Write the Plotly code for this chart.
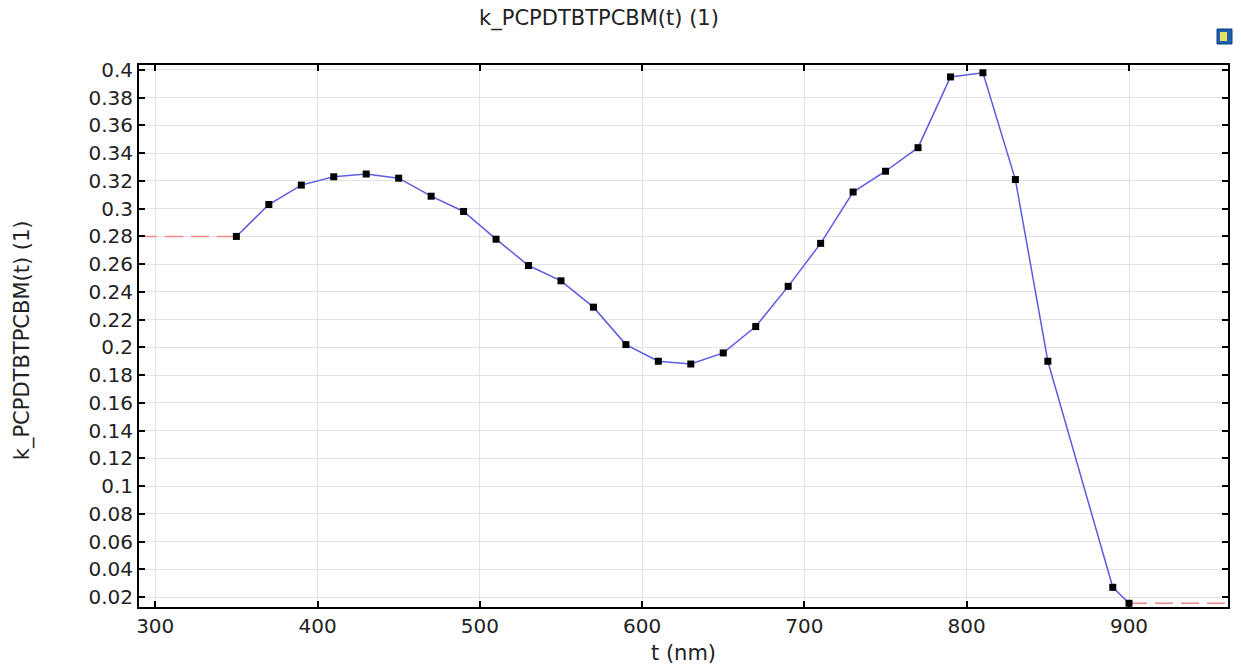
import plotly.graph_objects as go

t_nm = [350, 370, 390, 410, 430, 450, 470, 490, 510, 530, 550, 570, 590, 610, 630,
        650, 670, 690, 710, 730, 750, 770, 790, 810, 830, 850, 890, 900]
k_val = [0.280, 0.303, 0.317, 0.323, 0.325, 0.322, 0.309, 0.298, 0.278, 0.259, 0.248,
         0.229, 0.202, 0.190, 0.188, 0.196, 0.215, 0.244, 0.275, 0.312, 0.327, 0.344,
         0.395, 0.398, 0.321, 0.190, 0.027, 0.0155]

x_range = [290, 961]
y_range = [0.0128, 0.4036]

left_ext_x = [x_range[0], t_nm[0]]
left_ext_y = [k_val[0], k_val[0]]
right_ext_x = [t_nm[-1], x_range[1]]
right_ext_y = [k_val[-1], k_val[-1]]

y_ticks = [round(0.02 * i, 2) for i in range(1, 21)]
y_tick_text = [("%g" % v) for v in y_ticks]

FONT = "DejaVu Sans"
TXT = "#222222"

fig = go.Figure()
fig.add_trace(go.Scatter(x=left_ext_x, y=left_ext_y, mode="lines",
                         line=dict(color="#f08a8a", width=1.5, dash="18px,8px"),
                         hoverinfo="skip"))
fig.add_trace(go.Scatter(x=right_ext_x, y=right_ext_y, mode="lines",
                         line=dict(color="#f08a8a", width=1.5, dash="18px,8px"),
                         hoverinfo="skip"))
fig.add_trace(go.Scatter(x=t_nm, y=k_val, mode="lines+markers",
                         line=dict(color="#5c5ce0", width=1.5),
                         marker=dict(symbol="square", size=7, color="black",
                                     line=dict(width=0))))

axis_common = dict(showline=True, linecolor="black", linewidth=2, mirror="ticks",
                   ticks="inside", ticklen=6, tickcolor="black", tickwidth=1.5,
                   showgrid=True, gridcolor="#e3e3e3", gridwidth=1, zeroline=False,
                   tickfont=dict(family=FONT, size=20, color=TXT))

fig.update_layout(
    width=1241, height=671,
    margin=dict(l=139, r=11, t=65, b=64),
    paper_bgcolor="white", plot_bgcolor="white",
    showlegend=False,
    title=dict(text="k_PCPDTBTPCBM(t) (1)", x=599 / 1241, xanchor="center",
               y=1 - 18 / 671, yanchor="middle",
               font=dict(family=FONT, size=21, color=TXT)),
    xaxis=dict(range=x_range, tickvals=[300, 400, 500, 600, 700, 800, 900],
               **axis_common),
    yaxis=dict(range=y_range, tickvals=y_ticks, ticktext=y_tick_text,
               **axis_common),
)

plot_l, plot_w, plot_b, plot_h = 139, 1091, 64, 542

def px_x(p):
    return (p - plot_l) / plot_w

def px_y(p):
    return (671 - plot_b - p) / plot_h

fig.add_annotation(text="t (nm)", xref="paper", yref="paper", x=0.5, y=px_y(653),
                   xanchor="center", yanchor="middle", showarrow=False,
                   font=dict(family=FONT, size=21, color=TXT))
fig.add_annotation(text="k_PCPDTBTPCBM(t) (1)", xref="paper", yref="paper",
                   x=px_x(22), y=px_y(340), xanchor="center", yanchor="middle",
                   textangle=-90, showarrow=False,
                   font=dict(family=FONT, size=21, color=TXT))

# small app icon at top right
fig.add_shape(type="rect", xref="paper", yref="paper", x0=px_x(1219), x1=px_x(1234),
              y0=px_y(44), y1=px_y(29), fillcolor="#1f5fb0",
              line=dict(color="#0d3f80", width=1))
fig.add_shape(type="rect", xref="paper", yref="paper", x0=px_x(1222), x1=px_x(1229),
              y0=px_y(41), y1=px_y(32), fillcolor="#e8e060", line=dict(width=0))

fig.write_html("out.html")
